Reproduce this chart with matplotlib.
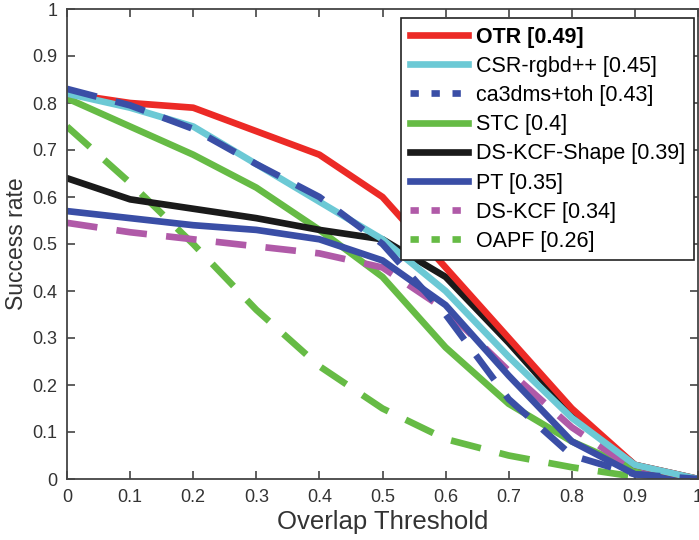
import matplotlib.pyplot as plt
from matplotlib.lines import Line2D
from matplotlib.ticker import MultipleLocator

plt.rcParams['font.family'] = ['Liberation Sans', 'DejaVu Sans']

thresholds = [0, 0.1, 0.2, 0.3, 0.4, 0.5, 0.6, 0.7, 0.8, 0.9, 1.0]

otr = [0.82, 0.80, 0.79, 0.74, 0.69, 0.60, 0.45, 0.30, 0.15, 0.03, 0.0]
csr = [0.82, 0.79, 0.75, 0.67, 0.59, 0.51, 0.40, 0.26, 0.13, 0.03, 0.0]
ca3dms = [0.83, 0.795, 0.745, 0.67, 0.60, 0.50, 0.35, 0.17, 0.05, 0.01, 0.0]
stc = [0.81, 0.75, 0.69, 0.62, 0.53, 0.43, 0.28, 0.16, 0.08, 0.02, 0.0]
dskcf_shape = [0.64, 0.595, 0.575, 0.555, 0.53, 0.51, 0.43, 0.29, 0.14, 0.03, 0.0]
pt = [0.57, 0.555, 0.54, 0.53, 0.51, 0.465, 0.37, 0.22, 0.08, 0.01, 0.0]
dskcf = [0.545, 0.525, 0.51, 0.495, 0.48, 0.45, 0.36, 0.23, 0.11, 0.02, 0.0]
oapf = [0.75, 0.63, 0.50, 0.36, 0.24, 0.15, 0.085, 0.05, 0.025, 0.005, 0.0]

names = ["OTR [0.49]", "CSR-rgbd++ [0.45]", "ca3dms+toh [0.43]", "STC [0.4]",
         "DS-KCF-Shape [0.39]", "PT [0.35]", "DS-KCF [0.34]", "OAPF [0.26]"]
tick_labels = ["0", "0.1", "0.2", "0.3", "0.4", "0.5", "0.6", "0.7", "0.8", "0.9", "1"]

red = "#ec2a26"
cyan = "#6cc9d5"
blue = "#3a4ea6"
green = "#66bb45"
black = "#1a1a1a"
magenta = "#b05aa8"

lw = 4.8
dash = (4.6, 2.9)

fig = plt.figure(figsize=(6.99, 5.4), dpi=100)
ax = fig.add_axes([67/699, 61/540, 631/699, 470/540])

# drawing order: back to front
ax.plot(thresholds, oapf, color=green, lw=lw, dashes=dash)
ax.plot(thresholds, stc, color=green, lw=lw)
ax.plot(thresholds, dskcf, color=magenta, lw=lw, dashes=dash)
ax.plot(thresholds, pt, color=blue, lw=lw)
ax.plot(thresholds, dskcf_shape, color=black, lw=lw)
ax.plot(thresholds, otr, color=red, lw=lw)
ax.plot(thresholds, csr, color=cyan, lw=lw)
ax.plot(thresholds, ca3dms, color=blue, lw=lw, dashes=dash)

ax.set_xlim(0, 1)
ax.set_ylim(0, 1)
ax.set_xticks(thresholds)
ax.set_xticklabels(tick_labels)
ax.set_yticks(thresholds)
ax.set_yticklabels(tick_labels)
ax.xaxis.set_minor_locator(MultipleLocator(0.2))
ax.yaxis.set_minor_locator(MultipleLocator(0.2))
ax.tick_params(which='major', direction='in', length=6, width=1.2, top=True, right=True,
               labelsize=13, labelcolor='#333333', color='#444444', pad=7)
ax.tick_params(which='minor', length=0)
ax.grid(which='minor', linestyle=(0, (4, 4)), color='#d0d0d0', linewidth=0.9)
for s in ax.spines.values():
    s.set_color('#444444')
    s.set_linewidth(1.3)

ax.set_xlabel("Overlap Threshold", fontsize=18.5, color='#333333', labelpad=3)
ax.set_ylabel("Success rate", fontsize=16.5, color='#333333', labelpad=3)

styles = [(red, 'solid'), (cyan, 'solid'), (blue, 'dot'), (green, 'solid'),
          (black, 'solid'), (blue, 'solid'), (magenta, 'dot'), (green, 'dot')]
handles = []
for c, st in styles:
    if st == 'dot':
        handles.append(Line2D([], [], color=c, lw=lw, dashes=(1.25, 1.9)))
    else:
        handles.append(Line2D([], [], color=c, lw=lw))

leg = ax.legend(handles, names, loc='upper right', fontsize=15.5, frameon=True, fancybox=False,
                edgecolor='#222222', framealpha=1, handlelength=2.7, handletextpad=0.4,
                labelspacing=0.38, borderpad=0.4, borderaxespad=0,
                bbox_to_anchor=(694/699, 1 - 18/540), bbox_transform=fig.transFigure)
leg.get_frame().set_linewidth(1.2)
leg.get_texts()[0].set_fontweight('bold')

plt.savefig("out.png", dpi=100)
